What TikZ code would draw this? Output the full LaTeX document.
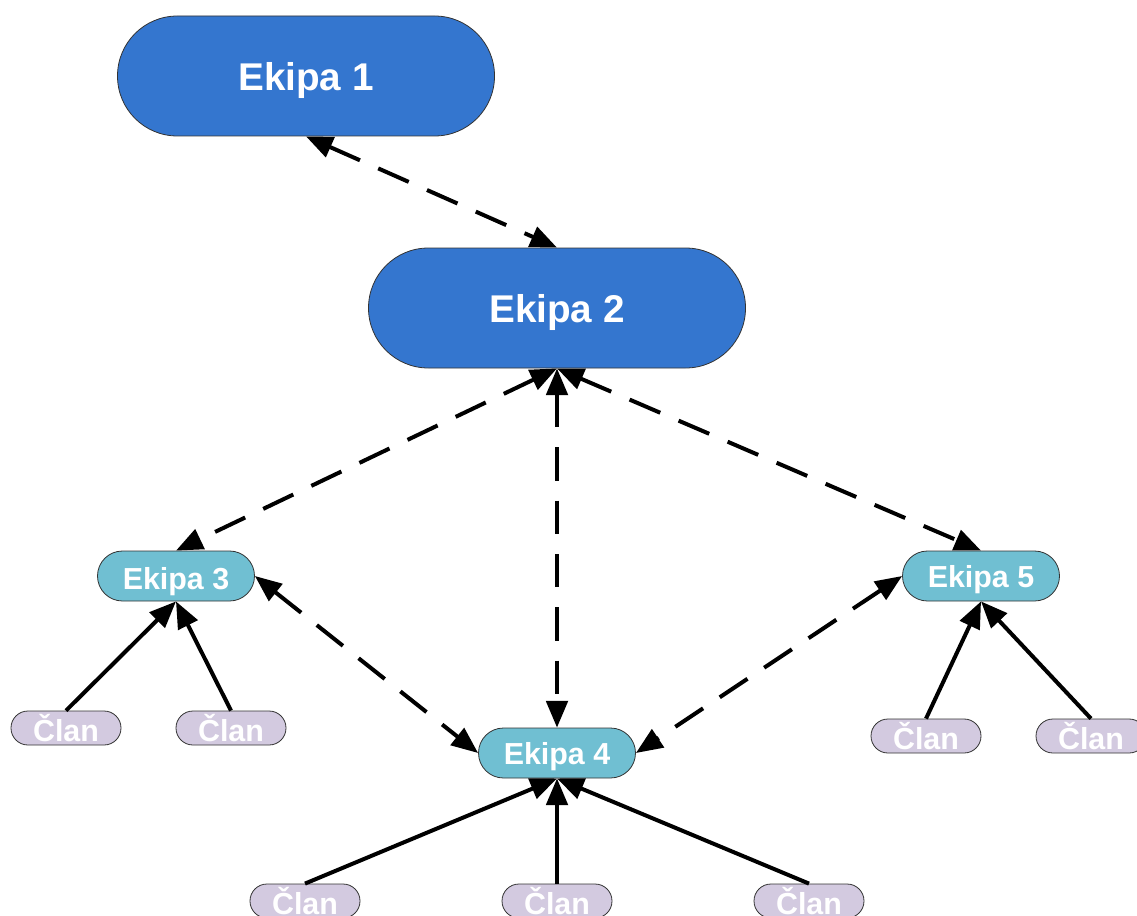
\documentclass[tikz,border=0pt]{standalone}
\usepackage{fontspec}
\setmainfont{Liberation Sans}
\usetikzlibrary{arrows.meta}
\definecolor{bigblue}{RGB}{52,118,207}
\definecolor{teal}{RGB}{112,191,210}
\definecolor{lav}{RGB}{211,202,224}
\tikzset{
  big/.style={draw=black!80, line width=0.6pt, fill=bigblue, text=white, font=\fontsize{29}{32}\selectfont\bfseries,
    minimum width=282.75pt, minimum height=90pt, rounded corners=44.9pt, inner sep=0pt, text depth=0pt},
  mid/.style={draw=black!80, line width=0.6pt, fill=teal, text=white, font=\fontsize{22.8}{25}\selectfont\bfseries,
    minimum width=117.75pt, minimum height=37.5pt, rounded corners=18.7pt, inner sep=0pt, text depth=0pt},
  mem/.style={draw=black!80, line width=0.6pt, fill=lav, text=white, font=\fontsize{22.8}{25}\selectfont\bfseries,
    minimum width=82.5pt, minimum height=25.5pt, rounded corners=12.7pt, inner sep=0pt},
  link/.style={line width=3pt, dash pattern=on 25pt off 15pt, {Triangle[length=20pt,width=16pt]}-{Triangle[length=20pt,width=16pt]}},
  feed/.style={line width=3pt, -{Triangle[length=20pt,width=16pt]}}
}
\begin{document}
\begin{tikzpicture}[x=0.75pt,y=-0.75pt]
\useasboundingbox (0,0) rectangle (1137,916);
\node[big] (e1) at (306,76) {Ekipa 1};
\node[big] (e2) at (557,308) {Ekipa 2};
\node[mid] (e3) at (176,576) {\raisebox{-4pt}{Ekipa 3}};
\node[mid] (e4) at (557,753) {Ekipa 4};
\node[mid] (e5) at (981,576) {Ekipa 5};
\node[mem] (c1) at (66,728) {Član};
\node[mem] (c2) at (231,728) {Član};
\node[mem] (c3) at (926,736) {Član};
\node[mem] (c4) at (1091,736) {Član};
\node[mem] (c5) at (305,901) {Član};
\node[mem] (c6) at (557,901) {Član};
\node[mem] (c7) at (809,901) {Član};
\draw[link] (e1.south) -- (e2.north);
\draw[link] (e2.south) -- (e3.north);
\draw[link] (e2.south) -- (e4.north);
\draw[link] (e2.south) -- (e5.north);
\draw[link] (e3.east) -- (e4.west);
\draw[link] (e5.west) -- (e4.east);
\draw[feed] (c1.north) -- (e3.south);
\draw[feed] (c2.north) -- (e3.south);
\draw[feed] (c3.north) -- (e5.south);
\draw[feed] (c4.north) -- (e5.south);
\draw[feed] (c5.north) -- (e4.south);
\draw[feed] (c6.north) -- (e4.south);
\draw[feed] (c7.north) -- (e4.south);
\end{tikzpicture}
\end{document}
